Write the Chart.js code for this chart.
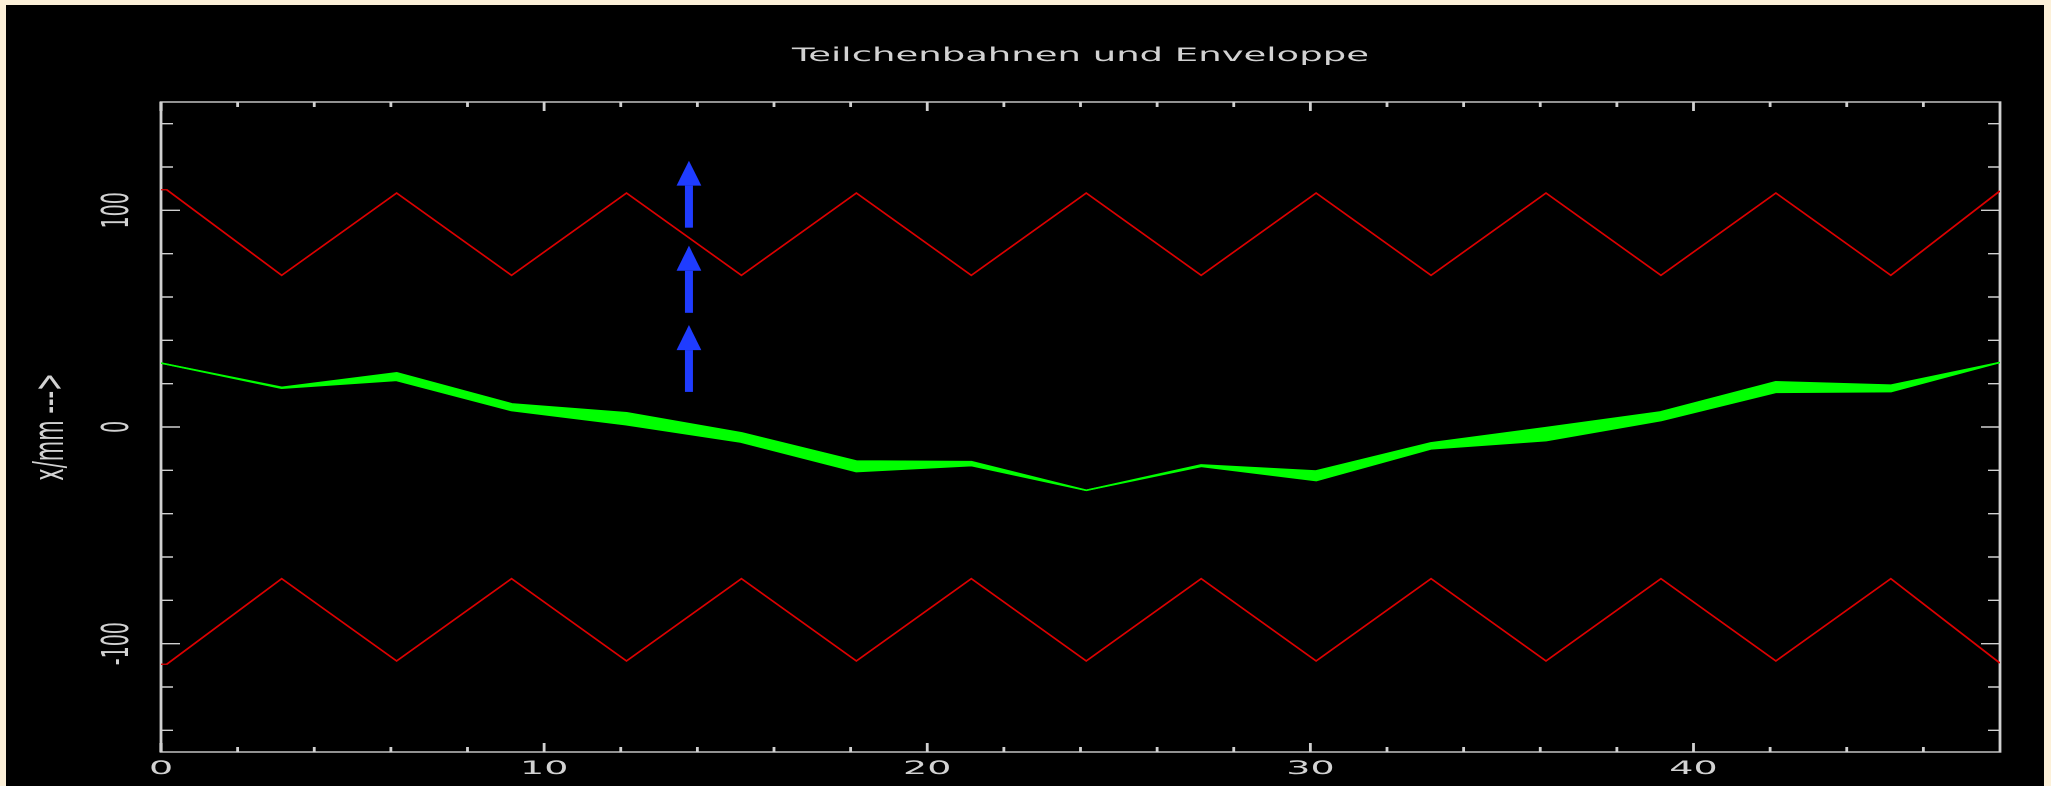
<!DOCTYPE html>
<html>
<head>
<meta charset="utf-8">
<title>Teilchenbahnen und Enveloppe</title>
<script src="https://cdn.jsdelivr.net/npm/chart.js@4.4.1/dist/chart.umd.min.js"></script>
<style>
  html, body { margin: 0; padding: 0; background: #fcf0d8; overflow: hidden; }
  /* die Originalgrafik ist horizontal auf das Doppelte gestreckt */
  #frame {
    position: absolute; left: 6px; top: 5px;
    width: 1019px; height: 781px;
    background: #000;
    transform: scaleX(2); transform-origin: 0 0;
  }
</style>
</head>
<body>
<div id="frame"><canvas id="chart"></canvas></div>
<script>
// Apertur (rote Linien), Stützstellen in m
const aperturePos = [0, 0.15, 3.15, 6.15, 9.15, 12.15, 15.15, 18.15, 21.15, 24.15,
                     27.15, 30.15, 33.15, 36.15, 39.15, 42.15, 45.15, 48];
const apertureTop = [109.5, 109.5, 70, 108, 70, 108, 70, 108, 70, 108,
                     70, 108, 70, 108, 70, 108, 70, 109];
const apertureBottom = [-109.5, -109.5, -70, -108, -70, -108, -70, -108, -70, -108,
                        -70, -108, -70, -108, -70, -108, -70, -109];

// Enveloppe der Teilchenbahnen (grünes Band)
const envPos = [0, 3.15, 6.15, 9.15, 12.15, 15.15, 18.15, 21.15, 24.15,
                27.15, 30.15, 33.15, 36.15, 39.15, 42.15, 45.15, 48];
const envUpper = [29.5, 18.3, 25, 10.7, 6.6, -2.7, -15.7, -16, -29.2,
                  -17.5, -20.3, -7.3, -0.3, 7, 20.9, 19.3, 29.8];
const envLower = [29.5, 17.9, 21.5, 7.6, 1, -7, -20.6, -17.8, -29.2,
                  -18.2, -24.7, -10.1, -6.3, 3, 16, 16.3, 29.8];

// blaue Pfeile (x-Position, Schaftende, Ansatz der Spitze, Spitze)
const arrowX = 13.78;
const arrowTails = [92, 52.7, 16.2];
const arrowNecks = [111.4, 72.1, 35.5];
const arrowTips = [122.9, 83.7, 47.1];

// Achsenteilung
const xTickValues = [0, 2, 4, 6, 8, 10, 12, 14, 16, 18, 20, 22, 24, 26, 28, 30,
                     32, 34, 36, 38, 40, 42, 44, 46];
const yTickValues = [-140, -120, -100, -80, -60, -40, -20, 0, 20, 40, 60, 80,
                     100, 120, 140];

const textColor = '#d2d2d2';
const frameColor = '#d0d0d0';
const fontFamily = "'DejaVu Sans', sans-serif";

function toPoints(xs, ys) {
  return xs.map((x, i) => ({ x: x, y: ys[i] }));
}

// Rahmen mit nach innen zeigenden Teilstrichen auf allen vier Seiten
const axisFrame = {
  id: 'axisFrame',
  beforeDatasetsDraw(chart) {
    const { ctx, chartArea: a, scales: { x, y } } = chart;
    ctx.save();
    ctx.strokeStyle = frameColor;
    ctx.lineWidth = 1.4;
    ctx.strokeRect(a.left, a.top, a.right - a.left, a.bottom - a.top);
    ctx.beginPath();
    x.ticks.forEach(t => {
      const px = x.getPixelForValue(t.value);
      const len = t.value % 10 === 0 ? 9 : 5;
      ctx.moveTo(px, a.bottom);
      ctx.lineTo(px, a.bottom - len);
      ctx.moveTo(px, a.top);
      ctx.lineTo(px, a.top + len);
    });
    y.ticks.forEach(t => {
      const py = y.getPixelForValue(t.value);
      const len = t.value % 100 === 0 ? 9.5 : 6;
      ctx.moveTo(a.left, py);
      ctx.lineTo(a.left + len, py);
      ctx.moveTo(a.right, py);
      ctx.lineTo(a.right - len, py);
    });
    ctx.stroke();
    ctx.restore();
  }
};

// Pfeile über den Daten zeichnen
const arrows = {
  id: 'arrows',
  afterDatasetsDraw(chart) {
    const { ctx, scales: { x, y } } = chart;
    const px = x.getPixelForValue(arrowX);
    ctx.save();
    ctx.fillStyle = '#1f3cff';
    arrowTails.forEach((tail, i) => {
      const yTail = y.getPixelForValue(tail);
      const yNeck = y.getPixelForValue(arrowNecks[i]);
      const yTip = y.getPixelForValue(arrowTips[i]);
      ctx.fillRect(px - 2, yNeck, 4, yTail - yNeck);
      ctx.beginPath();
      ctx.moveTo(px - 6.2, yNeck);
      ctx.lineTo(px, yTip);
      ctx.lineTo(px + 6.2, yNeck);
      ctx.closePath();
      ctx.fill();
    });
    ctx.restore();
  }
};

const lineStyle = { pointRadius: 0, tension: 0, showLine: true };

new Chart(document.getElementById('chart'), {
  type: 'scatter',
  data: {
    datasets: [
      Object.assign({
        label: 'Enveloppe oben',
        data: toPoints(envPos, envUpper),
        borderColor: '#00ff00',
        backgroundColor: '#00ff00',
        borderWidth: 1.5,
        fill: '+1',
      }, lineStyle),
      Object.assign({
        label: 'Enveloppe unten',
        data: toPoints(envPos, envLower),
        borderColor: '#00ff00',
        borderWidth: 1.5,
        fill: false,
      }, lineStyle),
      Object.assign({
        label: 'Apertur oben',
        data: toPoints(aperturePos, apertureTop),
        borderColor: '#dc0000',
        borderWidth: 1.2,
        fill: false,
      }, lineStyle),
      Object.assign({
        label: 'Apertur unten',
        data: toPoints(aperturePos, apertureBottom),
        borderColor: '#dc0000',
        borderWidth: 1.2,
        fill: false,
      }, lineStyle),
    ],
  },
  options: {
    responsive: true,
    maintainAspectRatio: false,
    animation: false,
    devicePixelRatio: 2,
    events: [],
    layout: { padding: { right: 22 } },
    plugins: {
      legend: { display: false },
      tooltip: { enabled: false },
      title: {
        display: true,
        fullSize: false,
        text: 'Teilchenbahnen und Enveloppe',
        color: textColor,
        font: { family: fontFamily, size: 18.5, weight: 'normal' },
        padding: { top: 39.9, bottom: 34.9 },
      },
    },
    scales: {
      x: {
        type: 'linear',
        min: 0,
        max: 48,
        afterBuildTicks: scale => {
          scale.ticks = xTickValues.map(v => ({ value: v }));
        },
        afterFit: scale => {
          scale.height = 34;
        },
        grid: { display: false, drawTicks: false },
        border: { display: false },
        ticks: {
          color: textColor,
          font: { family: fontFamily, size: 19 },
          padding: 5.5,
          autoSkip: false,
          maxRotation: 0,
          callback: v => (v % 10 === 0 ? String(v) : ''),
        },
      },
      y: {
        type: 'linear',
        min: -150,
        max: 150,
        afterBuildTicks: scale => {
          scale.ticks = yTickValues.map(v => ({ value: v }));
        },
        afterFit: scale => {
          scale.width = 77.5;
        },
        grid: { display: false, drawTicks: false },
        border: { display: false },
        ticks: {
          color: textColor,
          font: { family: fontFamily, size: 19 },
          padding: 0,
          minRotation: 90,
          maxRotation: 90,
          crossAlign: 'center',
          autoSkip: false,
          callback: v => (v % 100 === 0 ? String(v) : ''),
        },
        title: {
          display: true,
          text: 'x/mm --->',
          color: textColor,
          font: { family: fontFamily, size: 21 },
          padding: { top: 10.4, bottom: 0 },
        },
      },
    },
  },
  plugins: [axisFrame, arrows],
});
</script>
</body>
</html>
